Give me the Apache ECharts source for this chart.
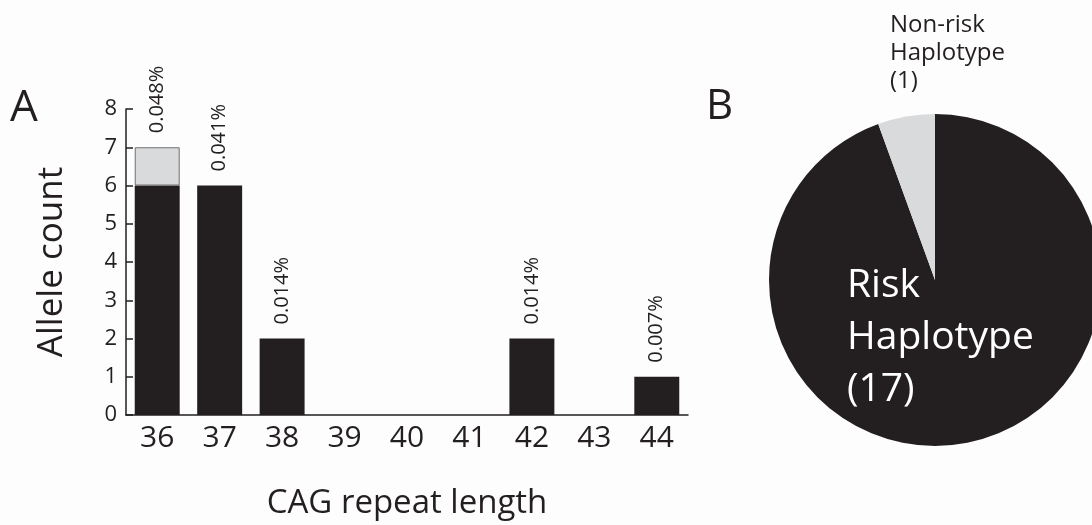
<!DOCTYPE html>
<html><head><meta charset="utf-8">
<script src="https://cdn.jsdelivr.net/npm/echarts@6/dist/echarts.min.js"></script>
<style>html,body{margin:0;padding:0;background:#fdfdfd}#c{width:1092px;height:525px}</style>
</head><body><div id="c"></div>
<script>
const categories = ['36','37','38','39','40','41','42','43','44'];
const riskCounts = [6,6,2,0,0,0,2,0,1];
const nonRiskCounts = [1,0,0,0,0,0,0,0,0];
const pctLabels = ['0.048%','0.041%','0.014%','','','','0.014%','','0.007%'];
const yTicks = [0,1,2,3,4,5,6,7,8];
const pieNames = ['Risk\nHaplotype', 'Non-risk\nHaplotype'];
const pieValues = [17, 1];

const FONT = '"Open Sans", "Noto Sans", sans-serif';
const BLACK = '#231f20';
const GRAY = '#d9dadc';

const chart = echarts.init(document.getElementById('c'));

const pctLabel = {
  show: true, position: 'top', rotate: 90, align: 'left', verticalAlign: 'middle',
  distance: 14, fontSize: 20, color: '#231f20', fontFamily: FONT,
  formatter: p => pctLabels[p.dataIndex]
};

const blackData = riskCounts.map((v, i) => ({
  value: v,
  label: Object.assign({}, pctLabel, {show: nonRiskCounts[i] === 0 && pctLabels[i] !== ''})
}));
const grayData = nonRiskCounts.map((v, i) => v > 0 ? ({value: v, label: pctLabel}) : '-');

chart.setOption({
  backgroundColor: '#fdfdfd',
  textStyle: {fontFamily: FONT},
  grid: {left: 126, right: 404, top: 109, bottom: 109},
  xAxis: {
    type: 'category', data: categories,
    axisLine: {lineStyle: {color: BLACK, width: 1.5}},
    axisTick: {inside: true, length: 6, lineStyle: {color: BLACK, width: 1.5}},
    axisLabel: {fontSize: 30, color: BLACK, margin: 8, fontFamily: FONT},
    name: 'CAG repeat length', nameLocation: 'middle', nameGap: 72,
    nameTextStyle: {fontSize: 33, color: BLACK, fontFamily: FONT}
  },
  yAxis: {
    type: 'value', min: 0, max: 8, interval: 1,
    splitLine: {show: false},
    axisLine: {show: true, lineStyle: {color: BLACK, width: 1.5}},
    axisTick: {show: true, inside: true, length: 7, lineStyle: {color: BLACK, width: 1.5}},
    axisLabel: {fontSize: 22, color: BLACK, margin: 9, fontFamily: FONT, formatter: v => yTicks.includes(v) ? String(v) : ''},
    name: 'Allele count', nameLocation: 'middle', nameGap: 56,
    nameTextStyle: {fontSize: 35, color: BLACK, fontFamily: FONT}
  },
  series: [
    {type: 'bar', stack: 'a', data: blackData, barCategoryGap: '28%',
     itemStyle: {color: BLACK}},
    {type: 'bar', stack: 'a', data: grayData,
     itemStyle: {color: GRAY, borderColor: '#707070', borderWidth: 1}},
    {type: 'pie', center: [935, 280], radius: [0, 166], startAngle: 90, clockwise: true,
     silent: true,
     data: pieNames.map((n, i) => ({name: n, value: pieValues[i],
        itemStyle: {color: i === 0 ? BLACK : GRAY},
        label: i === 0
          ? {color: '#ffffff', fontSize: 39, lineHeight: 52, align: 'left'}
          : {color: '#231f20', fontSize: 24, lineHeight: 28, align: 'left'}
     })),
     label: {show: true, position: 'inside', fontFamily: FONT,
       formatter: p => p.name + '\n(' + p.value + ')'},
     labelLine: {show: false},
     labelLayout: p => p.dataIndex === 0
        ? {x: 847, y: 338, align: 'left', verticalAlign: 'middle'}
        : {x: 890, y: 53, align: 'left', verticalAlign: 'middle'}
    }
  ],
  graphic: [
    {type: 'text', left: 10, top: 86, style: {text: 'A', fontSize: 44, fill: BLACK, fontFamily: FONT}},
    {type: 'text', left: 706, top: 86, style: {text: 'B', fontSize: 42, fill: BLACK, fontFamily: FONT}}
  ]
});
</script></body></html>
